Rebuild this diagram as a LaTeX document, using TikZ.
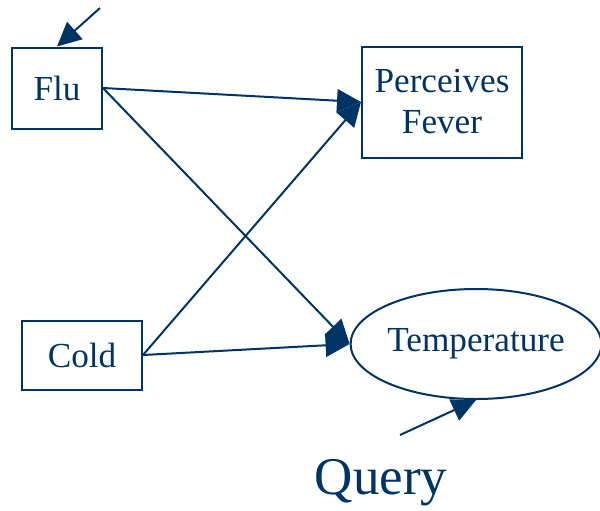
\documentclass[tikz,border=0pt]{standalone}
\usepackage{fontspec}
\setmainfont{Liberation Serif}
\usepackage{xcolor}
\usetikzlibrary{arrows.meta,shapes.geometric}
\definecolor{Navy}{HTML}{003366}

\tikzset{
  varbox/.style={draw=Navy, line width=1pt, text=Navy, text centered, font=\fontsize{17.6}{20.5}\selectfont},
  varoval/.style={varbox, ellipse, inner sep=0pt},
  link/.style={draw=Navy, line width=1pt, -{Triangle[length=12pt,width=11.5pt]}}
}

\begin{document}
\begin{tikzpicture}[x=0.5pt, y=-0.5pt]%
\useasboundingbox (0,0) rectangle (600,510);%
\node[varbox, minimum width=45pt, minimum height=40.5pt] (flu) at (57,88) {Flu};%
\node[varbox, minimum width=80pt, minimum height=55.5pt, align=center] (fever) at (442,102) {Perceives\\Fever};%
\node[varbox, minimum width=60pt, minimum height=34.5pt] (cold) at (82,355) {Cold};%
\node[varoval, minimum width=124pt, minimum height=55pt] (temp) at (476,344) {Temperature};%
\node[text=Navy, font=\fontsize{26.5}{30}\selectfont] (query) at (381,483) {Query};%
\coordinate (fluin) at (100,8);%
\coordinate (queryin) at (400,435);%
\draw[link] (fluin) -- (flu.north);%
\draw[link] (queryin) -- (temp.south);%
\draw[link] (flu.east) -- (fever.west);%
\draw[link] (flu.east) -- (temp.west);%
\draw[link] (cold.east) -- (fever.west);%
\draw[link] (cold.east) -- (temp.west);%
\end{tikzpicture}
\end{document}
